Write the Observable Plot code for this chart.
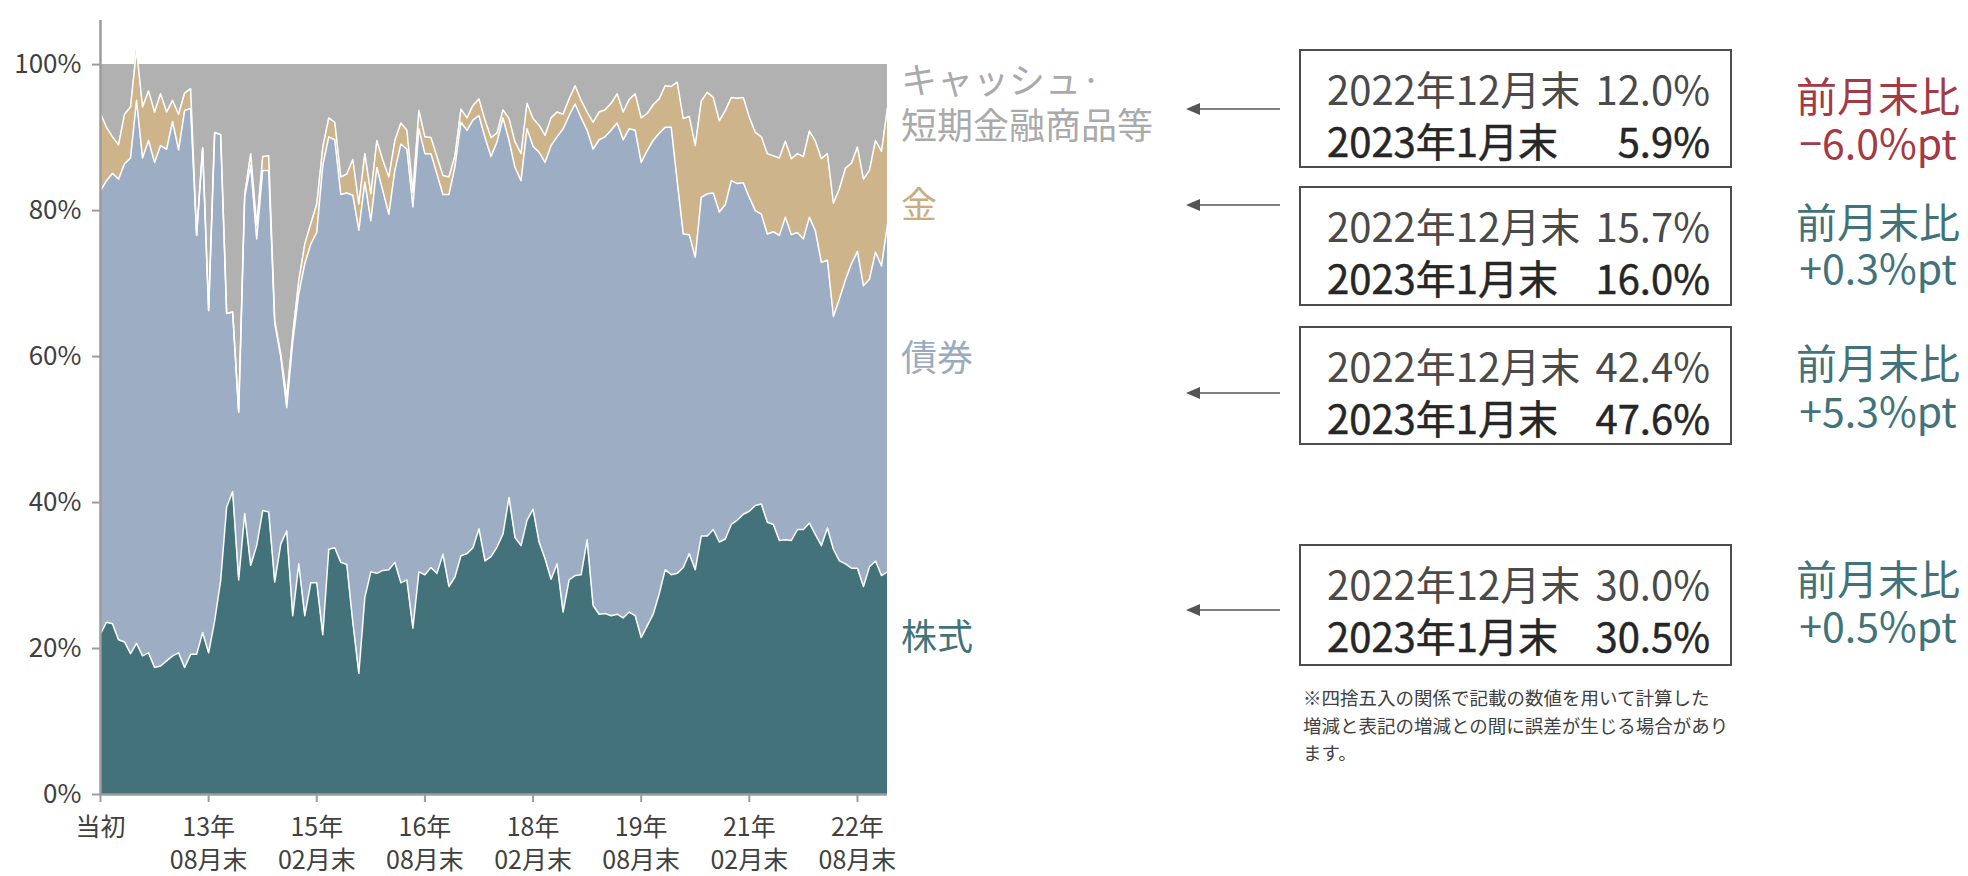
<!DOCTYPE html>
<html><head><meta charset="utf-8">
<script src="https://cdn.jsdelivr.net/npm/d3@7"></script>
<script src="https://cdn.jsdelivr.net/npm/@observablehq/plot@0.6"></script>
<style>
body{margin:0;background:#fff;}
#wrap{position:relative;width:1968px;height:876px;overflow:hidden;font-family:"Noto Sans CJK JP","Noto Sans",sans-serif;}
#chart{position:absolute;left:0;top:0;}
.lab{position:absolute;left:901px;font-size:36px;line-height:45px;transform:translateY(-50%);white-space:nowrap;}
.box{position:absolute;left:1299px;width:433px;box-sizing:border-box;border:2px solid #4d4d4d;}
.row{position:absolute;left:26px;right:20px;display:flex;justify-content:space-between;font-size:40px;line-height:1;transform:translateY(-50%);white-space:nowrap;}
.r1{color:#4a4a4a;}
.r2{color:#262626;-webkit-text-stroke:0.5px #262626;}
.chg{position:absolute;left:1878px;transform:translate(-50%,-50%);font-size:41px;line-height:1;white-space:nowrap;}
.note{position:absolute;left:1303px;top:684px;font-size:18.5px;line-height:27.5px;color:#404040;white-space:nowrap;}
#arrows{position:absolute;left:0;top:0;}
</style></head>
<body>
<div id="wrap">
  <div id="chart"></div>
  <svg id="arrows" width="1968" height="876"></svg>
</div>
<script>
// ---- data (monthly, 当初 = index 0 ... 2023年1月末 = index 131), values in %
const stock = [22.0,23.6,23.4,21.2,20.9,19.3,20.7,19.0,19.4,17.4,
17.6,18.3,19.0,19.4,17.4,19.2,19.2,22.2,19.4,23.8,
29.3,39.4,41.5,29.4,38.5,31.4,34.1,38.9,38.7,29.1,
34.3,36.1,24.5,31.6,24.5,29.0,29.0,21.9,33.6,33.8,
31.8,31.5,23.6,16.6,27.0,30.5,30.3,30.7,30.8,31.8,
29.0,29.4,22.8,30.5,30.1,31.1,30.3,32.9,28.5,29.8,
32.7,33.0,33.8,36.4,32.0,32.6,33.9,35.7,40.7,35.2,
34.1,37.6,39.1,34.6,32.3,29.5,31.6,25.0,29.4,30.0,
30.1,34.9,25.9,24.7,24.8,24.5,24.7,24.2,25.0,24.5,
21.5,23.1,24.7,27.5,30.8,30.1,30.3,31.1,33.0,30.8,
35.4,35.4,36.3,34.6,35.0,37.0,37.6,38.4,38.8,39.6,
39.8,37.3,37.0,34.8,34.9,34.8,36.3,36.3,37.2,35.6,
34.1,36.5,33.6,32.0,31.6,31.0,31.0,28.5,31.2,32.0,
30.0,30.5];
const bond = [60.7,60.5,61.7,63.1,65.5,67.9,74.4,68.2,70.2,69.2,
71.3,70.1,73.2,68.9,76.3,74.8,57.4,66.4,46.9,66.9,
61.1,26.5,24.6,23.0,43.3,54.8,42.0,46.6,46.8,35.5,
25.7,16.9,37.5,37.0,48.2,46.4,48.0,64.3,56.5,55.9,
50.4,50.9,58.5,60.7,56.9,48.1,55.6,52.0,48.7,53.7,
60.1,59.0,57.7,60.7,57.7,56.7,54.7,49.3,53.7,56.2,
59.4,58.0,58.6,56.6,58.0,54.8,55.5,57.0,48.9,50.7,
50.0,53.6,49.7,53.4,54.3,59.4,58.5,66.2,63.6,64.6,
62.6,56.1,62.5,65.0,65.3,66.5,67.3,65.5,66.2,66.5,
65.1,65.1,64.9,63.1,60.6,61.3,53.7,45.7,43.7,42.8,
46.4,46.9,46.1,45.2,45.8,47.1,46.1,45.4,43.0,40.4,
39.7,39.5,40.1,41.8,44.2,41.9,40.7,39.8,41.9,41.6,
38.8,36.7,31.9,35.9,38.9,41.7,43.4,41.2,39.4,42.3,
42.4,47.6];
const gold = [10.6,7.3,5.0,4.7,6.8,7.0,7.0,7.0,6.8,6.9,
7.1,5.1,2.9,4.9,2.4,2.7,0,0,0,0,
0,0,0,0,0.4,1.6,1.9,1.9,2.0,0.3,
0.4,1.4,1.0,1.8,2.7,2.8,3.9,2.5,2.6,2.4,
2.4,2.6,4.9,3.6,3.9,3.7,3.7,4.2,5.1,4.1,
2.9,2.6,2.0,2.5,2.3,2.2,2.4,2.6,2.4,1.5,
1.8,1.7,2.0,2.3,2.4,2.6,1.2,1.1,3.0,3.5,
3.7,3.5,3.8,3.7,3.7,3.8,3.4,2.0,2.3,2.5,
2.4,2.5,3.7,3.8,3.7,3.7,4.0,3.8,4.0,5.0,
6.1,5.1,4.9,4.7,5.7,5.6,13.6,15.8,16.2,15.3,
13.2,13.9,13.1,12.5,12.9,11.4,11.7,11.7,11.0,10.7,
10.6,11.0,10.4,10.6,10.4,10.4,10.8,11.3,11.8,12.3,
14.2,14.6,15.5,15.1,15.3,13.8,14.3,14.6,14.9,15.3,
15.7,16.0];
// cash = remainder up to 100%
const xTicks = [0,18,36,54,72,90,108,126];
const xTickLabels = ["当初","13年\n08月末","15年\n02月末","16年\n08月末","18年\n02月末","19年\n08月末","21年\n02月末","22年\n08月末"];
const yTicks = [0,20,40,60,80,100];

const seriesNames = ["キャッシュ·\n短期金融商品等","金","債券","株式"];
const prevLabel = "2022年12月末";
const currLabel = "2023年1月末";
const prevVals = ["12.0%","15.7%","42.4%","30.0%"];
const currVals = ["5.9%","16.0%","47.6%","30.5%"];
const changeLabel = "前月末比";
const changeVals = ["−6.0%pt","+0.3%pt","+5.3%pt","+0.5%pt"];
const note = "※四捨五入の関係で記載の数値を用いて計算した\n増減と表記の増減との間に誤差が生じる場合があり\nます。";

// ---- styles
const colors = {cash:"#b1b1b1", gold:"#cdb48a", bond:"#9dadc3", stock:"#43727a"};
const labelColors = ["#aaaaaa","#c9ad7f","#9aabc1","#43737a"];
const changeColors = ["#a33a44","#43737a","#43737a","#43737a"];

const idx = d3.range(stock.length);
const c1 = idx.map(i => stock[i]);
const c2 = idx.map(i => stock[i] + bond[i]);
const c3 = idx.map(i => stock[i] + bond[i] + gold[i]);

const chart = Plot.plot({
  width: 900, height: 876,
  marginLeft: 100, marginRight: 13, marginTop: 13, marginBottom: 82,
  style: {fontFamily: "'Noto Sans CJK JP','Noto Sans',sans-serif", background: "transparent", overflow: "visible"},
  x: {domain: [0, 131]},
  y: {domain: [0, 107]},
  marks: [
    Plot.areaY(idx, {x: i => i, y1: i => c3[i], y2: 100, fill: colors.cash}),
    Plot.areaY(idx, {x: i => i, y1: i => c2[i], y2: i => c3[i], fill: colors.gold}),
    Plot.areaY(idx, {x: i => i, y1: i => c1[i], y2: i => c2[i], fill: colors.bond}),
    Plot.areaY(idx, {x: i => i, y1: 0, y2: i => c1[i], fill: colors.stock}),
    Plot.lineY(idx, {x: i => i, y: i => c3[i], stroke: "#fff", strokeWidth: 1.5}),
    Plot.lineY(idx, {x: i => i, y: i => c2[i], stroke: "#fff", strokeWidth: 1.5}),
    Plot.lineY(idx, {x: i => i, y: i => c1[i], stroke: "#fff", strokeWidth: 1.5}),
    Plot.ruleX([0], {y1: 0, y2: 107, stroke: "#9c9c9c", strokeWidth: 2.5, insetBottom: -7}),
    Plot.ruleY([0], {stroke: "#9c9c9c", strokeWidth: 2.5}),
    Plot.axisY({ticks: yTicks, tickFormat: d => d + "%", tickSize: 8, tickPadding: 11,
      fontSize: 26, stroke: "#9c9c9c", strokeWidth: 2, fill: "#404040", label: null}),
    Plot.axisX({ticks: xTicks, tickFormat: d => xTickLabels[xTicks.indexOf(d)], tickSize: 8,
      tickPadding: 10, fontSize: 25, lineHeight: 1.32, stroke: "#9c9c9c", strokeWidth: 2,
      fill: "#404040", label: null})
  ]
});
document.getElementById("chart").appendChild(chart);

const wrap = document.getElementById("wrap");
// series labels
const labelY = [[78,123],[202],[355],[634]];
seriesNames.forEach((name, k) => {
  name.split("\n").forEach((line, j) => {
    const d = document.createElement("div");
    d.className = "lab";
    d.style.top = labelY[k][j] + "px";
    d.style.color = labelColors[k];
    d.textContent = line;
    wrap.appendChild(d);
  });
});

// boxes
const boxTop = [49,186,326,544];
const boxH = [119,120,119,122];
const chgY = [[94,141],[220,266],[361,409],[577,624]];
boxTop.forEach((t, k) => {
  const b = document.createElement("div");
  b.className = "box";
  b.style.top = t + "px";
  b.style.height = boxH[k] + "px";
  b.innerHTML = `<div class="row r1" style="top:37px"><span>${prevLabel}</span><span>${prevVals[k]}</span></div>
                 <div class="row r2" style="top:89px"><span>${currLabel}</span><span>${currVals[k]}</span></div>`;
  wrap.appendChild(b);
  [changeLabel, changeVals[k]].forEach((txt, j) => {
    const c = document.createElement("div");
    c.className = "chg";
    c.style.top = chgY[k][j] + "px";
    c.style.color = changeColors[k];
    c.textContent = txt;
    wrap.appendChild(c);
  });
});

// note
const nd = document.createElement("div");
nd.className = "note";
nd.innerHTML = note.split("\n").join("<br>");
wrap.appendChild(nd);

// arrows
const arrowY = [109,205,393,610];
const svg = d3.select("#arrows");
arrowY.forEach(y => {
  svg.append("line").attr("x1", 1280).attr("x2", 1196).attr("y1", y).attr("y2", y)
    .attr("stroke", "#555").attr("stroke-width", 1.6);
  svg.append("path").attr("d", `M1186,${y} L1200,${y-6} L1200,${y+6} Z`).attr("fill", "#555");
});
</script>
</body></html>
